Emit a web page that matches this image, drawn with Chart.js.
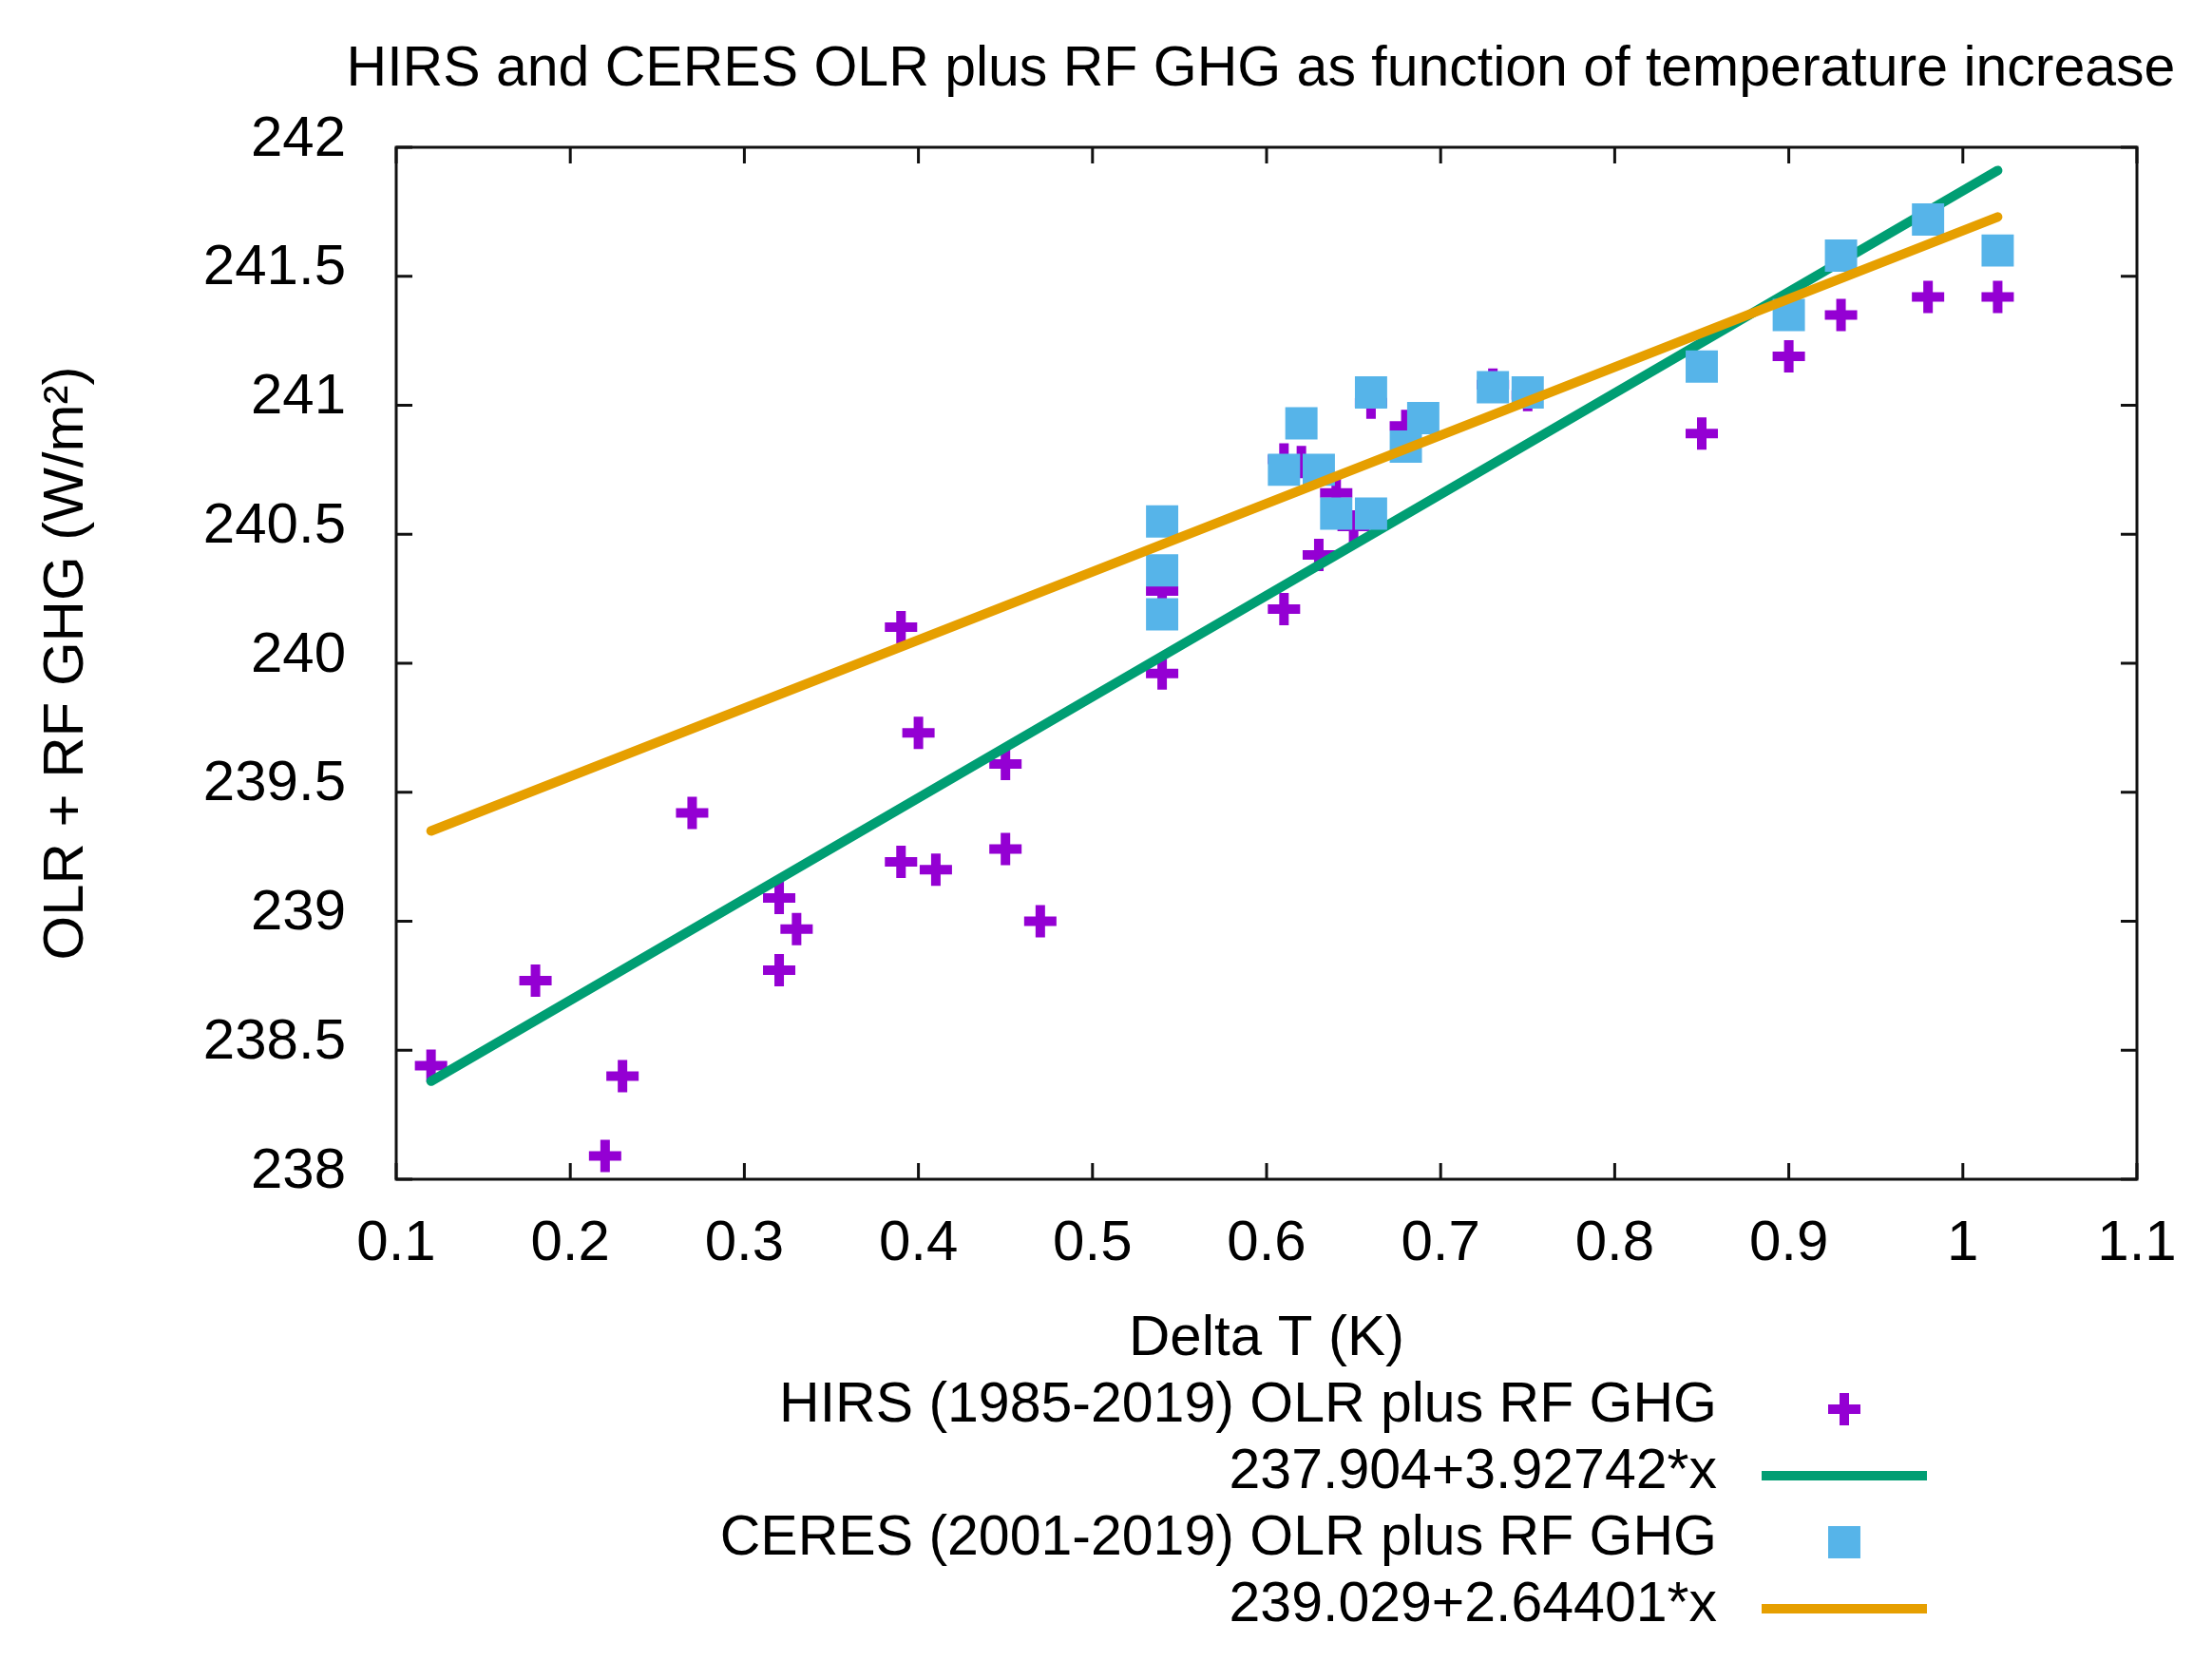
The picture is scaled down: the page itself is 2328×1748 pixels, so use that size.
<!DOCTYPE html>
<html>
<head>
<meta charset="utf-8">
<title>HIRS and CERES OLR plus RF GHG</title>
<script src="https://cdn.jsdelivr.net/npm/chart.js@4.4.1/dist/chart.umd.min.js"></script>
<style>
    html, body { margin: 0; padding: 0; background: #ffffff; }
    canvas { display: block; }
</style>
</head>
<body>
<canvas id="graph" width="2328" height="1748" style="width:2328px;height:1748px"></canvas>
<script>
"use strict";
const HIRS_X = [
    0.12, 0.18, 0.22, 0.23, 0.27, 0.32, 0.32, 0.33, 0.39, 0.39, 0.40,
    0.41, 0.45, 0.45, 0.47, 0.54, 0.54, 0.61, 0.61, 0.62, 0.63, 0.64,
    0.65, 0.66, 0.68, 0.73, 0.75, 0.85, 0.90, 0.93, 0.98, 1.02,
];
const HIRS_Y = [
    238.44, 238.77, 238.09, 238.40, 239.42, 239.09, 238.81, 238.97, 240.14, 239.23, 239.73,
    239.20, 239.61, 239.28, 239.00, 239.96, 240.28, 240.21, 240.79, 240.78, 240.42, 240.66,
    240.53, 241.01, 240.92, 241.08, 241.04, 240.89, 241.19, 241.35, 241.42, 241.42,
];
const CERES_X = [
    0.54, 0.54, 0.54, 0.61, 0.62, 0.63, 0.64, 0.66, 0.66,
    0.68, 0.69, 0.73, 0.75, 0.85, 0.90, 0.93, 0.98, 1.02,
];
const CERES_Y = [
    240.55, 240.36, 240.19, 240.75, 240.93, 240.75, 240.58, 240.58, 241.05,
    240.84, 240.95, 241.07, 241.05, 241.15, 241.35, 241.58, 241.72, 241.60,
];
// fitted lines, end points as drawn
const FIT_X = [0.12, 1.02];
const HIRS_FIT_Y = [238.38, 241.91];
const CERES_FIT_Y = [239.35, 241.73];
const LABELS = [
    "HIRS (1985-2019) OLR plus RF GHG",
    "237.904+3.92742*x",
    "CERES (2001-2019) OLR plus RF GHG",
    "239.029+2.64401*x",
];
const TITLE = "HIRS and CERES OLR plus RF GHG as function of temperature increase";
const X_TITLE = "Delta T (K)";
const Y_TITLE = "OLR + RF GHG (W/m\u00B2)";

const FONT = "'Liberation Sans', Arial, sans-serif";
const TEXT_COLOR = "#000000";

function pairs(xs, ys) {
    return xs.map(function (x, i) {
        return { x: x, y: ys[i] };
    });
}

function fmt(v) {
    return String(Number(v.toFixed(2)));
}

// gnuplot style box with inward ticks on all four sides
const framePlugin = {
    id: "frame",
    beforeDatasetsDraw(chart) {
        const { ctx, chartArea } = chart;
        const xs = chart.scales.x;
        const ys = chart.scales.y;
        const len = 17;
        ctx.save();
        ctx.strokeStyle = "#111111";
        ctx.lineWidth = 3;
        ctx.beginPath();
        xs.ticks.forEach(function (t) {
            const px = xs.getPixelForValue(t.value);
            ctx.moveTo(px, chartArea.bottom);
            ctx.lineTo(px, chartArea.bottom - len);
            ctx.moveTo(px, chartArea.top);
            ctx.lineTo(px, chartArea.top + len);
        });
        ys.ticks.forEach(function (t) {
            const py = ys.getPixelForValue(t.value);
            ctx.moveTo(chartArea.left, py);
            ctx.lineTo(chartArea.left + len, py);
            ctx.moveTo(chartArea.right, py);
            ctx.lineTo(chartArea.right - len, py);
        });
        ctx.stroke();
        ctx.strokeRect(chartArea.left, chartArea.top,
            chartArea.right - chartArea.left, chartArea.bottom - chartArea.top);
        ctx.restore();
    },
};

// title centred on the plot box, allowed to run past its edges
const headPlugin = {
    id: "head",
    afterDraw(chart) {
        const { ctx, chartArea } = chart;
        ctx.save();
        ctx.font = "59px " + FONT;
        ctx.fillStyle = TEXT_COLOR;
        ctx.textAlign = "center";
        ctx.textBaseline = "alphabetic";
        ctx.fillText(TITLE, (chartArea.left + chartArea.right) / 2 - 6, 90);
        ctx.restore();
    },
};

// key below the plot: text right aligned, sample on the right
const keyPlugin = {
    id: "gnukey",
    afterDraw(chart) {
        const ctx = chart.ctx;
        const textRight = 1807;
        const sampleLeft = 1854;
        const sampleRight = 2028;
        const sampleMid = 1941;
        const baseline0 = 1496;
        const rowStep = 70;
        ctx.save();
        chart.data.datasets.forEach(function (ds, i) {
            const base = baseline0 + i * rowStep;
            const my = base - 13;
            ctx.font = "59px " + FONT;
            ctx.fillStyle = TEXT_COLOR;
            ctx.textAlign = "right";
            ctx.textBaseline = "alphabetic";
            ctx.fillText(ds.label, textRight, base);
            if (ds.showLine) {
                ctx.strokeStyle = ds.borderColor;
                ctx.lineWidth = ds.borderWidth;
                ctx.lineCap = "butt";
                ctx.beginPath();
                ctx.moveTo(sampleLeft, my);
                ctx.lineTo(sampleRight, my);
                ctx.stroke();
            } else if (ds.pointStyle === "cross") {
                const r = ds.pointRadius;
                ctx.strokeStyle = ds.pointBorderColor;
                ctx.lineWidth = ds.pointBorderWidth;
                ctx.lineCap = "butt";
                ctx.beginPath();
                ctx.moveTo(sampleMid, my - r);
                ctx.lineTo(sampleMid, my + r);
                ctx.moveTo(sampleMid - r, my);
                ctx.lineTo(sampleMid + r, my);
                ctx.stroke();
            } else {
                const s = Math.SQRT1_2 * ds.pointRadius;
                ctx.fillStyle = ds.pointBackgroundColor;
                ctx.fillRect(sampleMid - s, my - s, 2 * s, 2 * s);
            }
        });
        ctx.restore();
    },
};

function drawGraph() {
    const data = {
        datasets: [
            {
                label: LABELS[0],
                data: pairs(HIRS_X, HIRS_Y),
                pointStyle: "cross",
                pointRadius: 17,
                pointBorderWidth: 10,
                pointBorderColor: "#9400d3",
                pointBackgroundColor: "#9400d3",
                showLine: false,
                order: 4,
            },
            {
                label: LABELS[1],
                data: pairs(FIT_X, HIRS_FIT_Y),
                showLine: true,
                borderColor: "#009e73",
                borderWidth: 10,
                borderCapStyle: "round",
                pointRadius: 0,
                order: 3,
            },
            {
                label: LABELS[2],
                data: pairs(CERES_X, CERES_Y),
                pointStyle: "rect",
                pointRadius: 24,
                pointBorderWidth: 0,
                pointBorderColor: "#56b4e9",
                pointBackgroundColor: "#56b4e9",
                showLine: false,
                order: 2,
            },
            {
                label: LABELS[3],
                data: pairs(FIT_X, CERES_FIT_Y),
                showLine: true,
                borderColor: "#e69f00",
                borderWidth: 10,
                borderCapStyle: "round",
                pointRadius: 0,
                order: 1,
            },
        ],
    };
    const tickFont = { family: FONT, size: 60 };
    const config = {
        type: "scatter",
        data,
        plugins: [framePlugin, headPlugin, keyPlugin],
        options: {
            responsive: false,
            devicePixelRatio: 1,
            animation: false,
            events: [],
            layout: {
                padding: { top: 155, right: 79, bottom: 0, left: 0 },
            },
            plugins: {
                legend: { display: false },
                tooltip: { enabled: false },
                title: { display: false },
            },
            scales: {
                x: {
                    type: "linear",
                    position: "bottom",
                    min: 0.1,
                    max: 1.1,
                    grid: { display: false, drawTicks: false },
                    border: { display: false },
                    ticks: {
                        stepSize: 0.1,
                        color: TEXT_COLOR,
                        font: tickFont,
                        padding: 32,
                        maxRotation: 0,
                        autoSkip: false,
                        callback: function (v) {
                            return fmt(v);
                        },
                    },
                    title: {
                        display: true,
                        text: X_TITLE,
                        color: TEXT_COLOR,
                        font: { family: FONT, size: 60, lineHeight: 1.2 },
                        padding: { top: 0, bottom: 303 },
                    },
                    afterFit: function (scale) {
                        scale.height = 507;
                    },
                },
                y: {
                    type: "linear",
                    position: "left",
                    min: 238,
                    max: 242,
                    grid: { display: false, drawTicks: false },
                    border: { display: false },
                    ticks: {
                        stepSize: 0.5,
                        color: TEXT_COLOR,
                        font: tickFont,
                        padding: 53,
                        labelOffset: -8,
                        autoSkip: false,
                        callback: function (v) {
                            return fmt(v);
                        },
                    },
                    title: {
                        display: true,
                        text: Y_TITLE,
                        color: TEXT_COLOR,
                        font: { family: FONT, size: 60, lineHeight: 1.2 },
                        padding: { top: 34, bottom: 0 },
                    },
                    afterFit: function (scale) {
                        scale.width = 417;
                    },
                },
            },
        },
    };
    // @ts-ignore
    new Chart(document.getElementById("graph"), config);
}

drawGraph();
</script>
</body>
</html>
